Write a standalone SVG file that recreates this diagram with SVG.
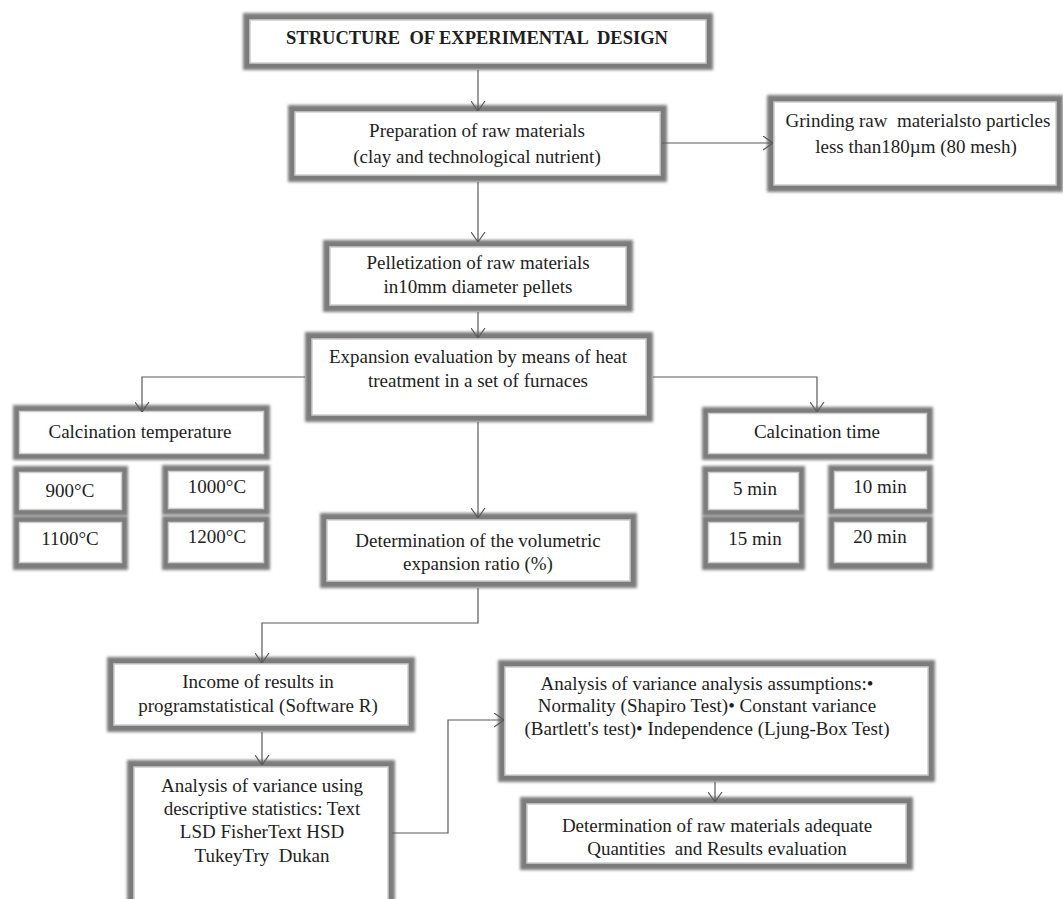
<svg xmlns="http://www.w3.org/2000/svg" width="1063" height="899" viewBox="0 0 1063 899">
<defs>
<filter id="blur" x="-5%" y="-10%" width="110%" height="120%"><feGaussianBlur stdDeviation="1.6"/></filter>
<marker id="arr" viewBox="0 0 10 15" refX="10" refY="7.5" markerWidth="10" markerHeight="15" markerUnits="userSpaceOnUse" orient="auto"><path d="M0,0.5 L10,7.5 L0,14.5" fill="none" stroke="#5a5a5a" stroke-width="1.2"/></marker>
</defs>
<style>
.sh{fill:#7c7c7c;filter:url(#blur)}
.in{fill:#ffffff;stroke:#cdcdcd;stroke-width:1.5}
text{font-family:"Liberation Serif","Times New Roman",serif;font-size:19px;fill:#1e1e1e;text-anchor:middle}
.t{font-weight:bold;font-size:18.5px}
.c path{fill:none;stroke:#5a5a5a;stroke-width:1.2;marker-end:url(#arr)}
</style>
<rect width="1063" height="899" fill="#ffffff"/>
<g id="title"><rect class="sh" x="243" y="13" width="470" height="57"/><rect class="in" x="250" y="20" width="456" height="43"/><text class="t" x="477" y="44" xml:space="preserve">STRUCTURE  OF EXPERIMENTAL  DESIGN</text></g>
<g id="prep"><rect class="sh" x="288" y="105" width="379" height="77"/><rect class="in" x="295" y="112" width="365" height="63"/><text x="477" y="137">Preparation of raw materials</text><text x="477" y="163">(clay and technological nutrient)</text></g>
<g id="grind"><rect class="sh" x="767" y="95" width="296" height="97"/><rect class="in" x="774" y="102" width="282" height="83"/><text x="918" y="127" xml:space="preserve">Grinding raw  materialsto particles</text><text x="916" y="153">less than180µm (80 mesh)</text></g>
<g id="pellet"><rect class="sh" x="323" y="240" width="310" height="72"/><rect class="in" x="330" y="247" width="296" height="58"/><text x="478" y="269">Pelletization of raw materials</text><text x="478" y="293">in10mm diameter pellets</text></g>
<g id="expansion"><rect class="sh" x="305" y="332" width="348" height="90"/><rect class="in" x="312" y="339" width="334" height="76"/><text x="478" y="363">Expansion evaluation by means of heat</text><text x="478" y="387">treatment in a set of furnaces</text></g>
<g id="calc-temp"><rect class="sh" x="13" y="405" width="257" height="55"/><rect class="in" x="19.5" y="411.5" width="244" height="42"/><text x="140" y="438">Calcination temperature</text></g>
<g id="t900"><rect class="sh" x="13" y="466" width="115" height="50"/><rect class="in" x="19.5" y="472.5" width="102" height="37"/><text x="70" y="497">900°C</text></g>
<g id="t1100"><rect class="sh" x="13" y="516" width="115" height="54"/><rect class="in" x="19.5" y="522.5" width="102" height="40"/><text x="70" y="545">1100°C</text></g>
<g id="t1000"><rect class="sh" x="162" y="465" width="108" height="50"/><rect class="in" x="168.5" y="471.5" width="95" height="37"/><text x="217" y="493">1000°C</text></g>
<g id="t1200"><rect class="sh" x="162" y="516" width="108" height="54"/><rect class="in" x="168.5" y="522.5" width="95" height="40"/><text x="217" y="543">1200°C</text></g>
<g id="calc-time"><rect class="sh" x="702" y="407" width="231" height="53"/><rect class="in" x="708.5" y="413.5" width="218" height="40"/><text x="817" y="438">Calcination time</text></g>
<g id="m5"><rect class="sh" x="702" y="466" width="103" height="50"/><rect class="in" x="708.5" y="472.5" width="90" height="37"/><text x="755" y="495">5 min</text></g>
<g id="m15"><rect class="sh" x="702" y="516" width="103" height="54"/><rect class="in" x="708.5" y="522.5" width="90" height="40"/><text x="755" y="545">15 min</text></g>
<g id="m10"><rect class="sh" x="828" y="465" width="105" height="50"/><rect class="in" x="834.5" y="471.5" width="92" height="37"/><text x="880" y="493">10 min</text></g>
<g id="m20"><rect class="sh" x="828" y="516" width="105" height="54"/><rect class="in" x="834.5" y="522.5" width="92" height="40"/><text x="880" y="543">20 min</text></g>
<g id="det-vol"><rect class="sh" x="320" y="513" width="317" height="75"/><rect class="in" x="327" y="520" width="303" height="61"/><text x="478" y="547">Determination of the volumetric</text><text x="478" y="570">expansion ratio (%)</text></g>
<g id="income"><rect class="sh" x="107" y="657" width="308" height="75"/><rect class="in" x="114" y="664" width="294" height="61"/><text x="258" y="688">Income of results in</text><text x="258" y="712">programstatistical (Software R)</text></g>
<g id="anova"><rect class="sh" x="127" y="760" width="268" height="150"/><rect class="in" x="134" y="767" width="254" height="140"/><text x="262" y="792">Analysis of variance using</text><text x="262" y="815">descriptive statistics: Text</text><text x="262" y="838">LSD FisherText HSD</text><text x="262" y="862" xml:space="preserve">TukeyTry  Dukan</text></g>
<g id="assumptions"><rect class="sh" x="498" y="660" width="437" height="122"/><rect class="in" x="505" y="667" width="423" height="108"/><text x="707" y="690">Analysis of variance analysis assumptions:•</text><text x="707" y="712">Normality (Shapiro Test)• Constant variance</text><text x="707" y="735">(Bartlett's test)• Independence (Ljung-Box Test)</text></g>
<g id="final"><rect class="sh" x="520" y="797" width="393" height="73"/><rect class="in" x="527" y="804" width="379" height="59"/><text x="717" y="832">Determination of raw materials adequate</text><text x="717" y="855" xml:space="preserve">Quantities  and Results evaluation</text></g>
<g id="connectors" class="c">
<path d="M478,70 V111"/>
<path d="M662,143 H773"/>
<path d="M478,182 V242"/>
<path d="M478,312 V338"/>
<path d="M305,377 H142 V412"/>
<path d="M653,377 H817 V412"/>
<path d="M478,422 V518"/>
<path d="M478,588 V623 H262 V663"/>
<path d="M262,732 V765"/>
<path d="M392,833 H448 V720 H504"/>
<path d="M715,782 V802"/>
</g>
</svg>
